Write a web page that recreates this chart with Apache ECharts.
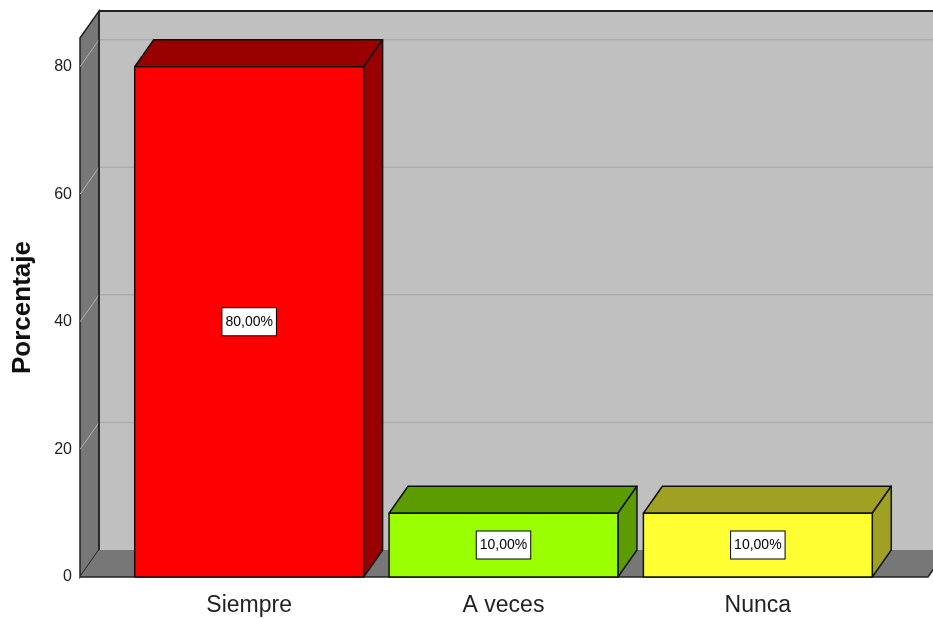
<!DOCTYPE html>
<html>
<head>
<meta charset="utf-8">
<script src="https://cdn.jsdelivr.net/npm/echarts@6/dist/echarts.min.js"></script>
<style>html,body{margin:0;padding:0;background:#fff;}#c{width:933px;height:619px;}</style>
</head>
<body>
<div id="c"></div>
<script>
const categories = ['Siempre', 'A veces', 'Nunca'];
const values = [80, 10, 10];
const valueLabels = ['80,00%', '10,00%', '10,00%'];
const yTicks = [0, 20, 40, 60, 80];
const faceColors = ['#ff0000', '#99ff00', '#ffff33'];
const shadeColors = ['#990000', '#5c9c00', '#a0a022'];

const DX = 19, DY = -27;
const FONT = '"Liberation Sans", Arial, sans-serif';
const chart = echarts.init(document.getElementById('c'), null, {renderer: 'canvas'});

function wallsRender(params, api) {
  const cs = params.coordSys;
  const y0 = api.coord([0, 0])[1];
  const yTop = cs.y;
  const xl = cs.x - 42;
  const xr = cs.x + cs.width + 43;
  const children = [];
  children.push({type: 'rect', shape: {x: xl + DX, y: yTop + DY, width: 1000, height: y0 - yTop},
    style: {fill: '#c0c0c0', stroke: null}});
  yTicks.forEach(t => {
    if (t === 0) return;
    const y = api.coord([0, t])[1];
    children.push({type: 'line', shape: {x1: xl + DX, y1: y + DY, x2: 1000, y2: y + DY}, style: {stroke: '#adadad', lineWidth: 1.5}});
  });
  children.push({type: 'polygon', shape: {points: [[xl, yTop], [xl + DX, yTop + DY], [xl + DX, y0 + DY], [xl, y0]]},
    style: {fill: '#777777', stroke: '#222', lineWidth: 1.5}});
  yTicks.forEach(t => {
    if (t === 0) return;
    const y = api.coord([0, t])[1];
    children.push({type: 'line', shape: {x1: xl, y1: y, x2: xl + DX, y2: y + DY}, style: {stroke: '#b0b0b0', lineWidth: 1}});
  });
  children.push({type: 'polygon', shape: {points: [[xl, y0], [xl + DX, y0 + DY], [xr + DX + 40, y0 + DY], [xr + 40, y0]]},
    style: {fill: '#777777', stroke: null}});
  children.push({type: 'polygon', shape: {points: [[xr, y0], [xr + DX, y0 + DY], [xr + DX + 60, y0 + DY], [xr + 60, y0]]},
    style: {fill: '#ffffff', stroke: null}});
  children.push({type: 'polyline', shape: {points: [[xl, y0], [xr, y0], [xr + DX, y0 + DY]]}, style: {stroke: '#222', lineWidth: 1.5, fill: null}});
  children.push({type: 'line', shape: {x1: xl + DX, y1: yTop + DY, x2: 1000, y2: yTop + DY}, style: {stroke: '#222', lineWidth: 2}});
  children.push({type: 'line', shape: {x1: xl + DX, y1: y0 + DY, x2: xl + DX + 0.01, y2: yTop + DY}, style: {stroke: '#222', lineWidth: 1.5}});
  return {type: 'group', children: children};
}

function barRender(params, api) {
  const i = api.value(0);
  const v = api.value(1);
  const top = api.coord([i, v]);
  const base = api.coord([i, 0]);
  const w = api.size([1, 0])[0] * 0.9;
  const x1 = top[0] - w / 2, x2 = top[0] + w / 2;
  const yt = top[1], yb = base[1];
  const idx = params.dataIndex;
  const stroke = {stroke: '#111', lineWidth: 1.5, lineJoin: 'round'};
  return {type: 'group', children: [
    {type: 'polygon', shape: {points: [[x1, yt], [x1 + DX, yt + DY], [x2 + DX, yt + DY], [x2, yt]]},
      style: Object.assign({fill: shadeColors[idx]}, stroke)},
    {type: 'polygon', shape: {points: [[x2, yt], [x2 + DX, yt + DY], [x2 + DX, yb + DY], [x2, yb]]},
      style: Object.assign({fill: shadeColors[idx]}, stroke)},
    {type: 'rect', shape: {x: x1, y: yt, width: w, height: yb - yt},
      style: Object.assign({fill: faceColors[idx]}, stroke)},
    {type: 'text', x: (x1 + x2) / 2, y: (yt + yb) / 2,
      style: {text: valueLabels[idx], fill: '#000', font: '14px ' + FONT, lineHeight: 16,
        align: 'center', verticalAlign: 'middle', backgroundColor: '#fff', borderColor: '#000', borderWidth: 1,
        padding: [6, 3, 5, 3]}}
  ]};
}

chart.setOption({
  animation: false,
  backgroundColor: '#ffffff',
  grid: {left: 122, right: 48, top: 38, bottom: 42, containLabel: false},
  xAxis: {
    type: 'category', data: categories,
    axisLine: {show: false}, axisTick: {show: false},
    axisLabel: {fontSize: 23, color: '#222', margin: 17, fontFamily: FONT}
  },
  yAxis: {
    type: 'value', min: 0, max: 84.5, interval: 20,
    name: 'Porcentaje', nameLocation: 'middle', nameGap: 86,
    nameTextStyle: {fontSize: 26, fontWeight: 'bold', color: '#111', fontFamily: FONT},
    axisLine: {show: false}, axisTick: {show: false}, splitLine: {show: false},
    axisLabel: {fontSize: 16, color: '#222', margin: 50, fontFamily: FONT,
      formatter: v => yTicks.includes(v) ? String(v) : ''}
  },
  series: [
    {type: 'custom', renderItem: wallsRender, data: [[0, 0]], z: 1, silent: true, clip: false},
    {type: 'custom', renderItem: barRender, data: values.map((v, i) => [i, v]), z: 2, clip: false}
  ]
});
</script>
</body>
</html>
